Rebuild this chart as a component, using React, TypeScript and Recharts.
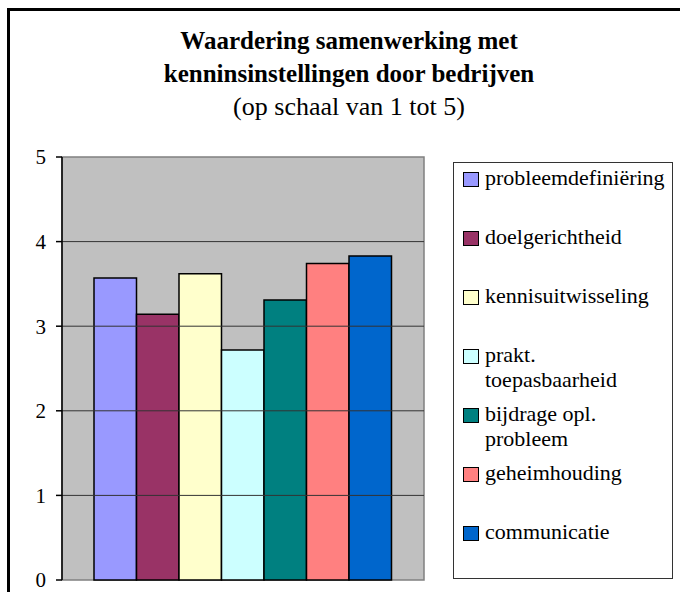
import React from "react";
import { BarChart, Bar, XAxis, YAxis, CartesianGrid, ReferenceLine, ReferenceArea } from "recharts";

// ─── Data ──────────────────────────────────────────────
const SERIES_KEYS = ["p1", "p2", "p3", "p4", "p5", "p6", "p7"];
const SERIES_LABELS = [
  "probleemdefiniëring",
  "doelgerichtheid",
  "kennisuitwisseling",
  "prakt.\ntoepasbaarheid",
  "bijdrage opl.\nprobleem",
  "geheimhouding",
  "communicatie",
];
const SERIES_VALUES = [3.57, 3.14, 3.62, 2.72, 3.31, 3.74, 3.83];
const SERIES_COLORS = ["#9999FF", "#993366", "#FFFFCC", "#CCFFFF", "#008080", "#FF8080", "#0066CC"];
const Y_TICKS = [0, 1, 2, 3, 4, 5];

const row: Record<string, number | string> = { name: "" };
SERIES_KEYS.forEach((k, i) => (row[k] = SERIES_VALUES[i]));
const data = [row];

const FONT = "'Liberation Serif', 'Times New Roman', serif";

function LegendBox() {
  return (
    <div
      style={{
        position: "absolute",
        left: 453,
        top: 162,
        width: 220,
        height: 417,
        border: "1px solid #333",
        background: "#fff",
        boxSizing: "border-box",
        fontFamily: FONT,
        fontSize: 22,
        color: "#000",
      }}
    >
      {SERIES_LABELS.map((label, i) => (
        <div key={i} style={{ position: "absolute", left: 9, top: 2 + i * 59, display: "flex" }}>
          <div
            style={{
              width: 16,
              height: 15,
              marginTop: 7,
              background: SERIES_COLORS[i],
              border: "1.5px solid #000",
              boxSizing: "border-box",
              flexShrink: 0,
            }}
          />
          <div style={{ marginLeft: 6, lineHeight: "25px", whiteSpace: "pre-line" }}>{label}</div>
        </div>
      ))}
    </div>
  );
}

export default function App() {
  return (
    <div style={{ position: "absolute", left: 0, top: 0, width: 680, height: 592, overflow: "hidden", background: "#fff" }}>
      <div
        style={{
          position: "absolute",
          left: 7,
          top: 8,
          width: 700,
          height: 620,
          border: "3px solid #000",
          boxSizing: "border-box",
        }}
      />
      <div
        style={{
          position: "absolute",
          left: 0,
          top: 24,
          width: 698,
          textAlign: "center",
          fontFamily: FONT,
          color: "#000",
        }}
      >
        <div style={{ fontWeight: "bold", fontSize: 25, lineHeight: "33px" }}>Waardering samenwerking met</div>
        <div style={{ fontWeight: "bold", fontSize: 25, lineHeight: "33px" }}>kenninsinstellingen door bedrijven</div>
        <div style={{ fontSize: 26, lineHeight: "33px" }}>(op schaal van 1 tot 5)</div>
      </div>
      <div style={{ position: "absolute", left: 0, top: 0 }}>
        <BarChart
          width={680}
          height={592}
          data={data}
          margin={{ top: 157, right: 256, left: 12, bottom: 12 }}
          barSize={42.5}
          barGap={0}
        >
          <CartesianGrid horizontal={false} vertical={false} fill="#C0C0C0" />
          <ReferenceArea y1={0} y2={5} fill="none" stroke="#808080" strokeWidth={1.5} ifOverflow="visible" />
          {Y_TICKS.filter((t) => t > 0 && t < 5).map((t) => (
            <ReferenceLine key={t} y={t} stroke="#333" strokeWidth={1} />
          ))}
          <XAxis dataKey="name" hide />
          <YAxis
            width={50}
            domain={[0, 5]}
            ticks={Y_TICKS}
            interval={0}
            tickSize={6}
            tickMargin={10}
            axisLine={{ stroke: "#000", strokeWidth: 1.5 }}
            tickLine={{ stroke: "#000", strokeWidth: 1.5 }}
            tick={{ fill: "#000", fontSize: 21, fontFamily: FONT }}
          />
          {SERIES_KEYS.map((k, i) => (
            <Bar
              key={k}
              dataKey={k}
              name={SERIES_LABELS[i]}
              fill={SERIES_COLORS[i]}
              stroke="#000"
              strokeWidth={1.5}
              isAnimationActive={false}
            />
          ))}
        </BarChart>
      </div>
      <LegendBox />
    </div>
  );
}
